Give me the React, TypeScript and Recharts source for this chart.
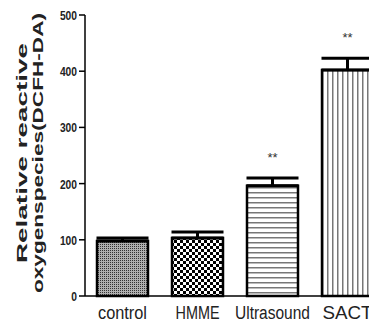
import { ComposedChart, Bar, XAxis, YAxis, ErrorBar, LabelList, Cell } from "recharts";

const groups = ["control", "HMME", "Ultrasound", "SACT"];
const means = [98, 103, 196, 402];
const errors = [5, 11, 14, 21];
const marks = ["", "", "**", "**"];
const yTicks = [0, 100, 200, 300, 400, 500];
const fills = ["url(#pDots)", "url(#pCheck)", "url(#pHoriz)", "url(#pVert)"];

const data = groups.map((g, i) => ({
  name: g,
  value: means[i],
  err: [0, errors[i]],
  sig: marks[i],
}));

const FONT = "'Liberation Sans', Arial, sans-serif";
// label widths squeezed to mimic the narrow font of the original
const xLabelWidth: Record<string, number> = { control: 49, HMME: 44, Ultrasound: 75, SACT: 50 };

function Stars(props: any) {
  const { x, y, width, height, index } = props;
  if (!marks[index]) return null;
  const perUnit = height / means[index];
  const top = y - errors[index] * perUnit;
  return (
    <text x={x + width / 2} y={top - 16} textAnchor="middle" fontSize={13} fontFamily={FONT} fill="#333">
      {marks[index]}
    </text>
  );
}

function XTick(props: any) {
  const { x, y, payload } = props;
  return (
    <text x={x} y={y + 15} textAnchor="middle" fontSize={18} fontFamily={FONT} fill="#222"
      textLength={xLabelWidth[payload.value]} lengthAdjust="spacingAndGlyphs">
      {payload.value}
    </text>
  );
}

function YTick(props: any) {
  const { x, y, payload } = props;
  const s = String(payload.value);
  return (
    <text x={x} y={y + 5} textAnchor="end" fontSize={13} fontWeight="bold" fontFamily={FONT} fill="#222"
      textLength={s.length * 5.7} lengthAdjust="spacingAndGlyphs">
      {s}
    </text>
  );
}

function YLabel() {
  return (
    <g transform="translate(30,153) rotate(-90)">
      <text x={0} y={-3} textAnchor="middle" fontSize={15} fontWeight="bold" fontFamily={FONT} fill="#222"
        textLength={220} lengthAdjust="spacingAndGlyphs">
        Relative reactive
      </text>
      <text x={0} y={13} textAnchor="middle" fontSize={15} fontWeight="bold" fontFamily={FONT} fill="#222"
        textLength={280} lengthAdjust="spacingAndGlyphs">
        oxygenspecies(DCFH-DA)
      </text>
    </g>
  );
}

export default function App() {
  return (
    <div style={{ width: 377, height: 329, overflow: "hidden", margin: -8, background: "#fff", position: "relative" }}>
      <ComposedChart width={386} height={329} data={data} margin={{ top: 15, right: 1, bottom: 0, left: 0 }} barCategoryGap="16%">
        <defs>
          <pattern id="pDots" width="2" height="2" patternUnits="userSpaceOnUse">
            <rect width="2" height="2" fill="#b0b0b0" />
            <rect width="1" height="1" fill="#333" />
          </pattern>
          <pattern id="pCheck" width="6" height="6" patternUnits="userSpaceOnUse">
            <rect width="6" height="6" fill="#fff" />
            <rect width="3" height="3" fill="#000" />
            <rect x="3" y="3" width="3" height="3" fill="#000" />
          </pattern>
          <pattern id="pHoriz" width="5" height="5" patternUnits="userSpaceOnUse">
            <rect width="5" height="5" fill="#fff" />
            <rect y="2" width="5" height="1.5" fill="#777" />
          </pattern>
          <pattern id="pVert" width="5" height="5" patternUnits="userSpaceOnUse">
            <rect width="5" height="5" fill="#fff" />
            <rect x="2" width="1.5" height="5" fill="#777" />
          </pattern>
        </defs>
        <XAxis
          dataKey="name"
          height={33}
          tickLine={false}
          axisLine={{ stroke: "#000", strokeWidth: 1.5 }}
          tick={<XTick />}
          interval={0}
        />
        <YAxis
          width={85}
          domain={[0, 500]}
          ticks={yTicks}
          tickSize={6}
          tickLine={{ stroke: "#000", strokeWidth: 1.5 }}
          axisLine={{ stroke: "#000", strokeWidth: 1.5 }}
          tick={<YTick />}
          tickMargin={2}
        />
        <Bar dataKey="value" stroke="#000" strokeWidth={2.5} isAnimationActive={false}>
          {data.map((_, i) => (
            <Cell key={i} fill={fills[i]} />
          ))}
          <ErrorBar dataKey="err" width={26} stroke="#000" strokeWidth={3} direction="y" />
          <LabelList dataKey="sig" content={Stars} />
        </Bar>
        <YLabel />
      </ComposedChart>
    </div>
  );
}
